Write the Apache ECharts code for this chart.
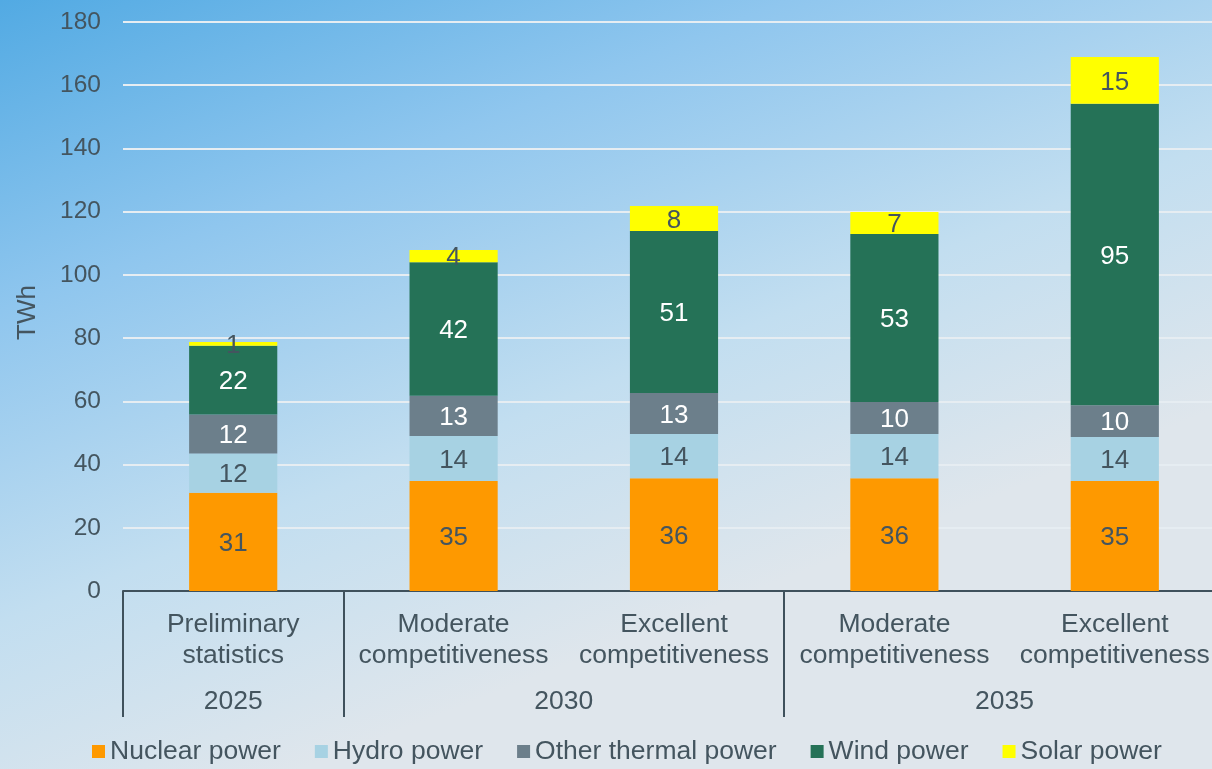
<!DOCTYPE html>
<html>
<head>
<meta charset="utf-8">
<script src="https://cdn.jsdelivr.net/npm/echarts@6/dist/echarts.min.js"></script>
<style>
html,body{margin:0;padding:0;}
#main{width:1212px;height:769px;}
</style>
</head>
<body>
<div id="main"></div>
<script>
// categories (two levels)
var scenarios = ['Preliminary\nstatistics', 'Moderate\ncompetitiveness', 'Excellent\ncompetitiveness', 'Moderate\ncompetitiveness', 'Excellent\ncompetitiveness'];
var years = ['2025', '2030', '2035'];
var yearSpan = [1, 2, 2]; // how many scenarios belong to each year

// TWh
var nuclear = [31.1, 34.8, 35.7, 35.7, 34.8];
var hydro = [12.4, 14.2, 14.0, 14.0, 13.9];
var thermal = [12.3, 12.8, 12.9, 10.1, 10.1];
var wind = [21.8, 42.2, 51.3, 53.1, 95.3];
var solar = [1.2, 3.9, 7.9, 7.0, 14.8];

var txt = '#44555f';
var font = "'Liberation Sans', Arial, sans-serif";

// separators between the year groups + where each year label sits
var groupStart = [], yearPos = {};
var acc = 0;
for (var i = 0; i < years.length; i++) {
    groupStart.push(acc);
    yearPos[(acc + yearSpan[i] / 2).toFixed(1)] = years[i];
    acc += yearSpan[i];
}

function mk(name, data, color, labelColor) {
    return {
        name: name,
        type: 'bar',
        stack: 'total',
        barWidth: '40%',
        data: data,
        itemStyle: {color: color},
        label: {
            show: true,
            position: 'inside',
            offset: [0, 2],
            color: labelColor,
            fontSize: 26,
            fontFamily: font,
            formatter: function(p){ return Math.round(p.value); }
        }
    };
}

var myChart = echarts.init(document.getElementById('main'));
var option = {
    backgroundColor: new echarts.graphic.LinearGradient(0, 0, 0.25, 1, [
        {offset: 0, color: '#52aae3'},
        {offset: 0.35, color: '#8fc6ee'},
        {offset: 0.7, color: '#c2def0'},
        {offset: 1, color: '#dfe6ec'}
    ]),
    textStyle: {fontFamily: font},
    grid: {left: 123, right: -13, top: 22, bottom: 178, containLabel: false, outerBoundsMode: 'none'},
    legend: {
        top: 738,
        left: 92,
        padding: 0,
        itemWidth: 13,
        itemHeight: 13,
        itemGap: 34,
        icon: 'rect',
        textStyle: {color: txt, fontSize: 26.5, fontFamily: font},
        data: ['Nuclear power', 'Hydro power', 'Other thermal power', 'Wind power', 'Solar power']
    },
    xAxis: [{
        type: 'category',
        data: scenarios,
        axisLine: {lineStyle: {color: '#3f515c', width: 2}},
        axisTick: {
            show: true,
            length: 126,
            lineStyle: {color: '#3f515c', width: 2},
            interval: function(idx){ return groupStart.indexOf(idx) >= 0; }
        },
        axisLabel: {color: txt, fontSize: 26.5, lineHeight: 31, margin: 18, interval: 0, fontFamily: font}
    }, {
        type: 'value',
        position: 'bottom',
        min: 0,
        max: scenarios.length,
        interval: 0.5,
        axisLine: {show: false},
        axisTick: {show: false},
        splitLine: {show: false},
        axisLabel: {
            color: txt, fontSize: 26.5, margin: 97, fontFamily: font,
            showMinLabel: true, showMaxLabel: true,
            formatter: function(v){ return yearPos[v.toFixed(1)] || ''; }
        }
    }],
    yAxis: {
        type: 'value',
        min: 0,
        max: 180,
        interval: 20,
        name: 'TWh',
        nameLocation: 'middle',
        nameGap: 82,
        nameRotate: 90,
        nameTextStyle: {color: txt, fontSize: 26, fontFamily: font, padding: [0, 12, 0, 0]},
        axisLine: {show: false},
        axisTick: {show: false},
        axisLabel: {color: txt, fontSize: 24.5, margin: 22, fontFamily: font},
        splitLine: {lineStyle: {color: '#e6edf2', width: 2}}
    },
    series: [
        mk('Nuclear power', nuclear, '#fe9900', txt),
        mk('Hydro power', hydro, '#a7d2e3', txt),
        mk('Other thermal power', thermal, '#6c7f8b', '#ffffff'),
        mk('Wind power', wind, '#257257', '#ffffff'),
        mk('Solar power', solar, '#ffff00', txt)
    ]
};
myChart.setOption(option);
</script>
</body>
</html>
